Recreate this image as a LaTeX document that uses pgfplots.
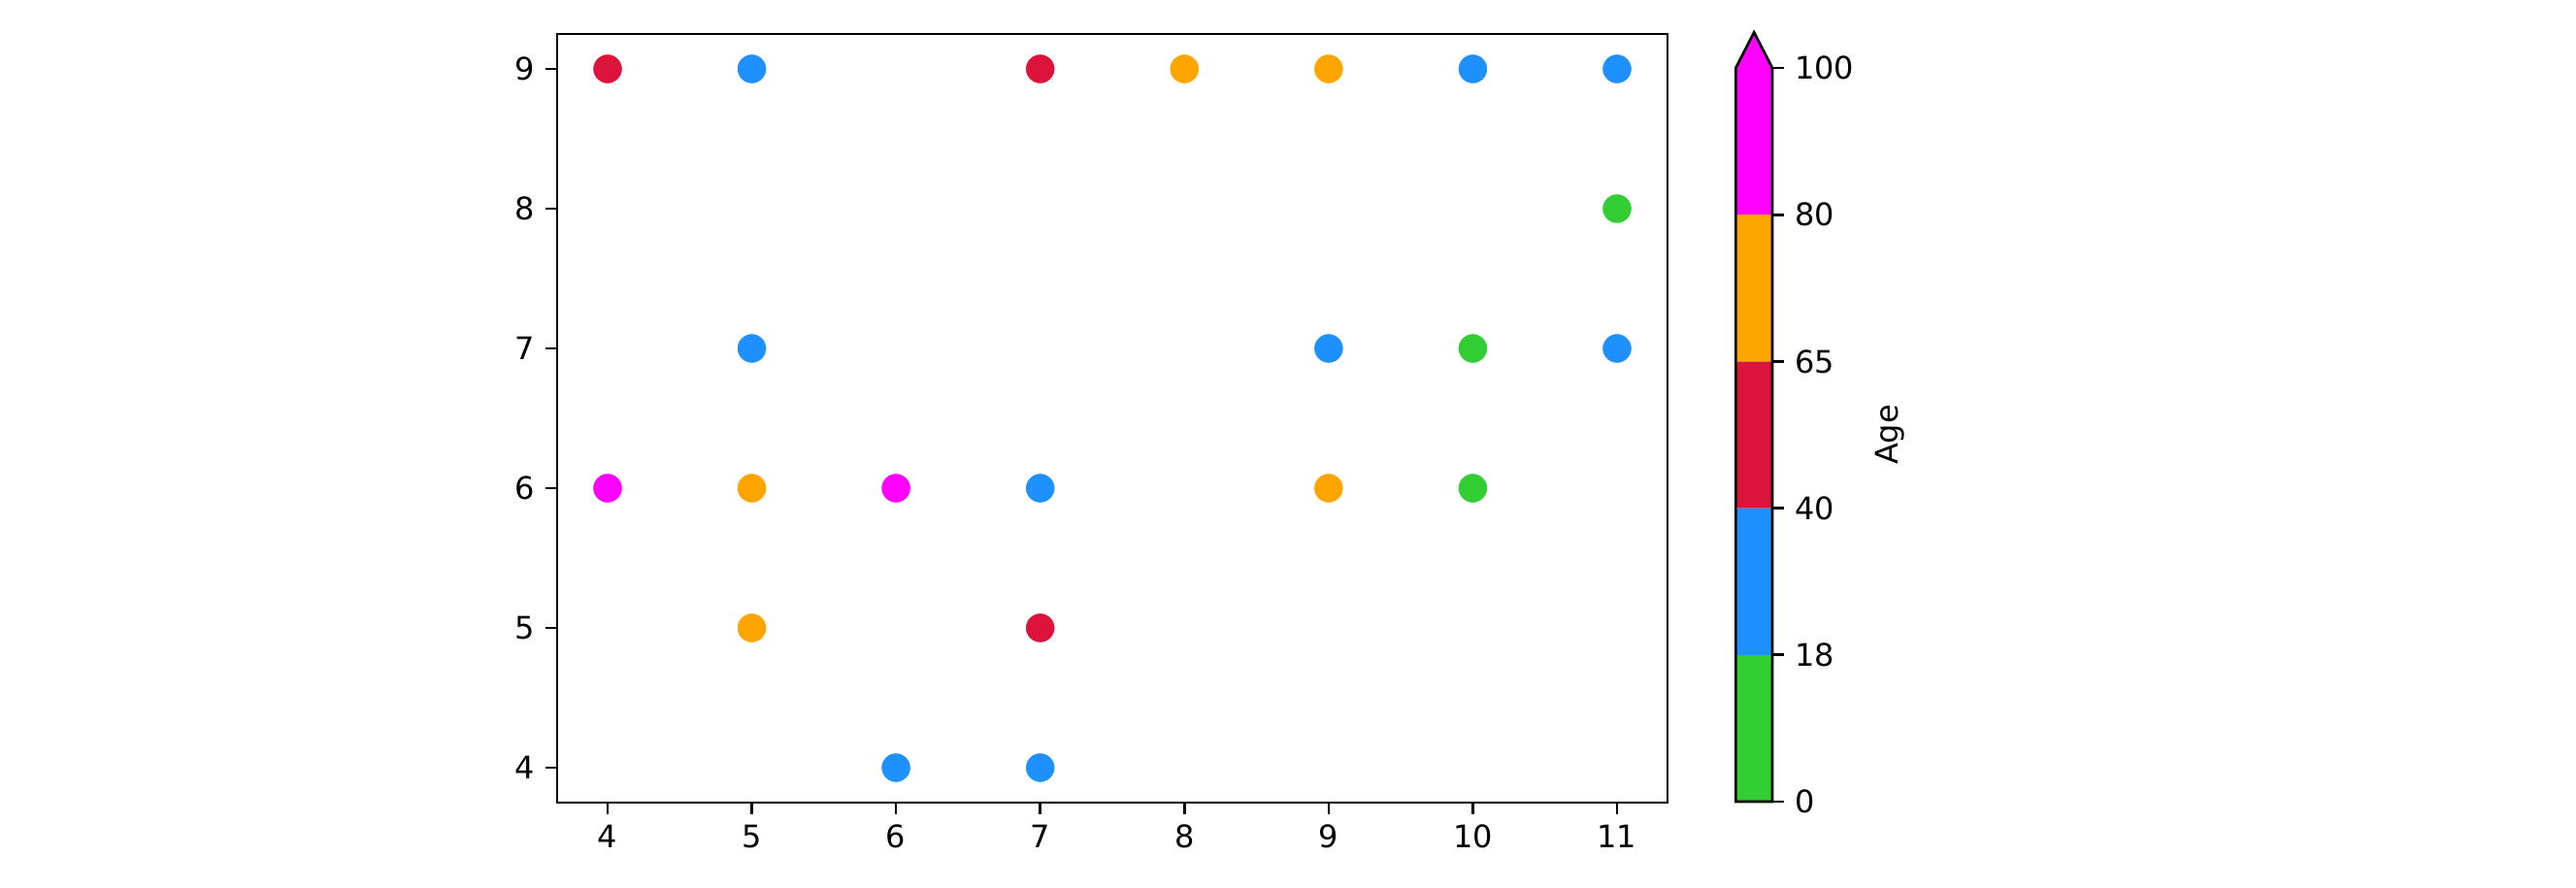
\documentclass[border=0pt]{standalone}
\usepackage{fontspec}
\setmainfont{DejaVu Sans}
\usepackage{pgfplots}
\pgfplotsset{compat=1.18}
\definecolor{cgreen}{RGB}{50,205,50}
\definecolor{cblue}{RGB}{30,144,255}
\definecolor{ccrimson}{RGB}{220,20,60}
\definecolor{corange}{RGB}{255,165,0}
\definecolor{cmagenta}{RGB}{255,0,255}
\begin{document}
\fontsize{9.6}{11.5}\selectfont
\begin{tikzpicture}
\path[use as bounding box] (0,0) rectangle (796.2pt,274.2pt);
\begin{axis}[
  at={(172.2pt,26.1pt)}, anchor=south west,
  scale only axis, width=343.2pt, height=237.6pt,
  xmin=3.65, xmax=11.35, ymin=3.75, ymax=9.25,
  xtick={4,...,11}, ytick={4,...,9},
  tick align=outside, tick pos=left,
  major tick length=3.5pt,
  axis line style={line width=0.8pt},
  every tick/.style={black, line width=0.8pt},
  tick label style={font=\fontsize{9.6}{11.5}\selectfont},
  /pgf/number format/assume math mode=true,
  clip=false,
]
\addplot[scatter, only marks, scatter src=explicit symbolic, mark size=4.6pt,
  scatter/classes={
    g={mark=*, draw=white, fill=cgreen, line width=0.3pt},
    b={mark=*, draw=white, fill=cblue, line width=0.3pt},
    r={mark=*, draw=white, fill=ccrimson, line width=0.3pt},
    o={mark=*, draw=white, fill=corange, line width=0.3pt},
    m={mark=*, draw=white, fill=cmagenta, line width=0.3pt}}]
table[meta=c] {
x y c
4 9 r
5 9 b
7 9 r
8 9 o
9 9 o
10 9 b
11 9 b
11 8 g
5 7 b
9 7 b
10 7 g
11 7 b
4 6 m
5 6 o
6 6 m
7 6 b
9 6 o
10 6 g
5 5 o
7 5 r
6 4 b
7 4 b
};
\end{axis}
\begin{axis}[
  at={(536.5pt,26.4pt)}, anchor=south west,
  scale only axis, width=11.3pt, height=226.8pt,
  xmin=0, xmax=1, ymin=0, ymax=5,
  xtick=\empty, ytick={0,1,2,3,4,5},
  yticklabels={0,18,40,65,80,100},
  yticklabel pos=right, ytick pos=right,
  tick align=outside, major tick length=3.5pt,
  every tick/.style={black, line width=0.8pt},
  axis line style={draw=none},
  tick label style={font=\fontsize{9.6}{11.5}\selectfont},
  ylabel={Age}, ylabel style={font=\fontsize{9.6}{11.5}\selectfont},
  clip=false,
]
\addplot[fill=cgreen, draw=none] coordinates {(0,0)(1,0)(1,1)(0,1)(0,0)};
\addplot[fill=cblue, draw=none] coordinates {(0,1)(1,1)(1,2)(0,2)(0,1)};
\addplot[fill=ccrimson, draw=none] coordinates {(0,2)(1,2)(1,3)(0,3)(0,2)};
\addplot[fill=corange, draw=none] coordinates {(0,3)(1,3)(1,4)(0,4)(0,3)};
\addplot[fill=cmagenta, draw=none] coordinates {(0,4)(1,4)(1,5)(0.5,5.2425)(0,5)(0,4)};
\addplot[black, line width=0.8pt, line join=miter] coordinates {(0,0)(1,0)(1,5)(0.5,5.2425)(0,5)(0,0)} -- cycle;
\end{axis}
\end{tikzpicture}
\end{document}
